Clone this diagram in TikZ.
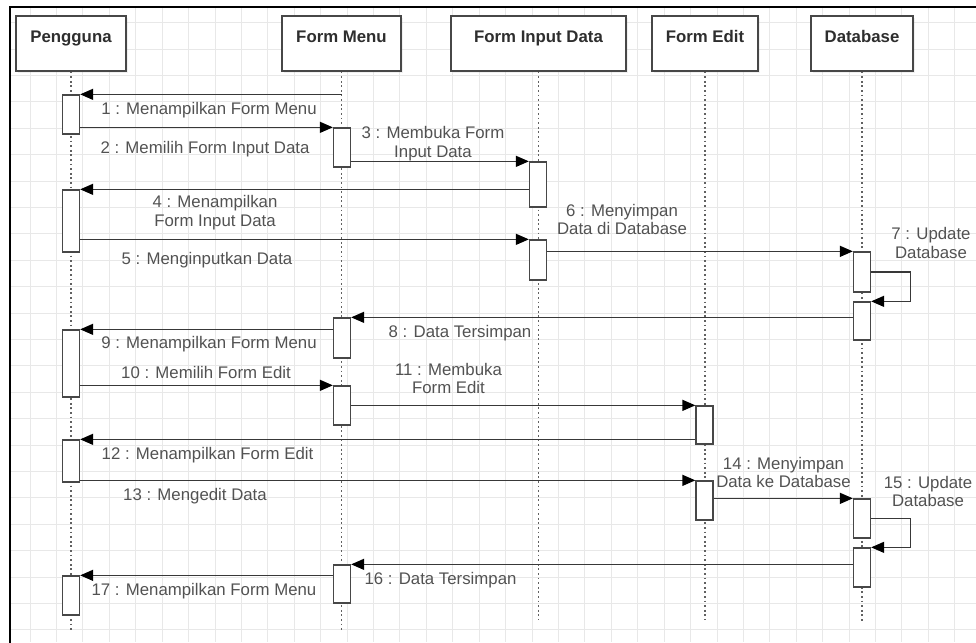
\documentclass[tikz,border=0pt]{standalone}
\usepackage{fontspec}
\setmainfont{Liberation Sans}
\usetikzlibrary{arrows.meta,shadows}
\begin{document}
\begin{tikzpicture}[x=1pt,y=-1pt,
  txt/.style={font=\fontsize{16.8}{18.5}\selectfont, text=black!68, align=center, inner sep=0pt},
  gridc/.style={draw=black!9, line width=0.7pt},
  frame/.style={draw=black, line width=2pt},
  head/.style={draw=black!72, line width=1.3pt, fill=white, minimum width=#1, minimum height=55pt,
    inner sep=0pt, text height=12pt, text depth=15pt,
    font=\fontsize{16.8}{18.5}\selectfont\bfseries, text=black!82,
    drop shadow={opacity=0.12, shadow xshift=2pt, shadow yshift=-2pt}},
  life/.style={draw=black!62, line width=1.8pt, dash pattern=on 1.8pt off 2.8pt},
  act/.style={draw=black!72, line width=1.3pt, fill=white, minimum width=17pt, minimum height=#1, inner sep=0pt},
  msg/.style={draw=black!78, line width=1.3pt, -{Triangle[length=13pt,width=11pt,fill=black,color=black]}},
]
\useasboundingbox (0,0) rectangle (976,642);

% background grid inside the frame
\begin{scope}
  \clip (10,7) rectangle (976,642);
  \foreach \i in {0,...,37} {\draw[gridc] ({3.5+26.42*\i},0) -- ++(0,642);}
  \foreach \j in {0,...,24} {\draw[gridc] (0,{22.5+26.4*\j}) -- ++(976,0);}
\end{scope}
\draw[frame] (10,660) -- (10,7) -- (990,7);

% lifeline heads
\node[head=110pt] (h1) at (71,43.5) {Pengguna};
\node[head=119pt] (h2) at (341.5,43.5) {Form Menu};
\node[head=175pt] (h3) at (538.5,43.5) {Form Input Data};
\node[head=106pt] (h4) at (705,43.5) {Form Edit};
\node[head=102pt] (h5) at (862,43.5) {Database};

% lifeline ends
\coordinate (e1) at (71,630);
\coordinate (e2) at (342,630);
\coordinate (e3) at (539,620);
\coordinate (e4) at (705,620);
\coordinate (e5) at (862,622);

\draw[life] (h1.south) -- (h1.south |- e1);
\draw[life] (h2.south) -- (h2.south |- e2);
\draw[life] (h3.south) -- (h3.south |- e3);
\draw[life] (h4.south) -- (h4.south |- e4);
\draw[life] (h5.south) -- (h5.south |- e5);

% activation bars
\node[act=39pt] (p1) at (71,114.5) {};
\node[act=62pt] (p2) at (71,221) {};
\node[act=67pt] (p3) at (71,363.5) {};
\node[act=42pt] (p4) at (71,461) {};
\node[act=39pt] (p5) at (71,595.5) {};
\node[act=39pt] (m1) at (342,147.5) {};
\node[act=40pt] (m2) at (342,338) {};
\node[act=39pt] (m3) at (342,405.5) {};
\node[act=38pt] (m4) at (342,584) {};
\node[act=45pt] (i1) at (538,184.5) {};
\node[act=40pt] (i2) at (538,260) {};
\node[act=38pt] (f1) at (704.5,425) {};
\node[act=39pt] (f2) at (704.5,500.5) {};
\node[act=40pt] (d1) at (862,272) {};
\node[act=38pt] (d2) at (862,321) {};
\node[act=39pt] (d3) at (862,518.5) {};
\node[act=39pt] (d4) at (862,567.5) {};

% messages
\draw[msg] (h2.south |- p1.north) -- (p1.north east);
\draw[msg] (p1.east |- m1.north) -- (m1.north west);
\draw[msg] (m1.east |- i1.north) -- (i1.north west);
\draw[msg] (i1.west |- p2.north) -- (p2.north east);
\draw[msg] (p2.east |- i2.north) -- (i2.north west);
\draw[msg] (i2.east |- d1.north) -- (d1.north west);
\draw[msg] (d1.east) -- ++(39,0) |- (d2.north east);
\draw[msg] (d2.west |- m2.north) -- (m2.north east);
\draw[msg] (m2.west |- p3.north) -- (p3.north east);
\draw[msg] (p3.east |- m3.north) -- (m3.north west);
\draw[msg] (m3.east |- f1.north) -- (f1.north west);
\draw[msg] (f1.west |- p4.north) -- (p4.north east);
\draw[msg] (p4.east |- f2.north) -- (f2.north west);
\draw[msg] (f2.east |- d3.north) -- (d3.north west);
\draw[msg] (d3.east) -- ++(39,0) |- (d4.north east);
\draw[msg] (d4.west |- m4.north) -- (m4.north east);
\draw[msg] (m4.west |- p5.north) -- (p5.north east);

% message labels
\node[txt] (l1) at (209,110) {1 : Menampilkan Form Menu};
\node[txt] (l2) at (205,149) {2 : Memilih Form Input Data};
\node[txt] (l3) at (433,143.5) {3 : Membuka Form\\Input Data};
\node[txt] (l4) at (215,212.5) {4 : Menampilkan\\Form Input Data};
\node[txt] (l5) at (207,260) {5 : Menginputkan Data};
\node[txt] (l6) at (622,219.5) {6 : Menyimpan\\Data di Database};
\node[txt] (l7) at (931,243) {7 : Update\\Database};
\node[txt] (l8) at (460,333) {8 : Data Tersimpan};
\node[txt] (l9) at (209,344) {9 : Menampilkan Form Menu};
\node[txt] (l10) at (206,372) {10 : Memilih Form Edit};
\node[txt] (l11) at (448.5,378.5) {11 : Membuka\\Form Edit};
\node[txt] (l12) at (207.5,455) {12 : Menampilkan Form Edit};
\node[txt] (l13) at (195,496) {13 : Mengedit Data};
\node[txt] (l14) at (783.5,472.5) {14 : Menyimpan\\Data ke Database};
\node[txt] (l15) at (928,491.5) {15 : Update\\Database};
\node[txt] (l16) at (440.5,580) {16 : Data Tersimpan};
\node[txt] (l17) at (204,591) {17 : Menampilkan Form Menu};
\end{tikzpicture}
\end{document}
